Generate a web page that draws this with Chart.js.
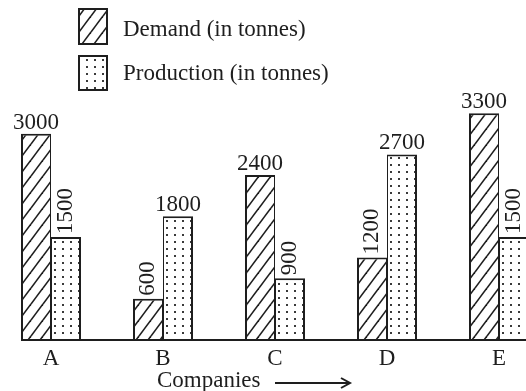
<!DOCTYPE html>
<html>
<head>
<meta charset="utf-8">
<script src="https://cdn.jsdelivr.net/npm/chart.js@4.4.1/dist/chart.umd.min.js"></script>
<style>
  html, body { margin: 0; padding: 0; background: #fff; overflow: hidden; width: 526px; height: 391px; }
  #wrap { position: absolute; left: -5px; top: 0; width: 560px; height: 391px; }
</style>
</head>
<body>
<div id="wrap"><canvas id="c" width="560" height="391"></canvas></div>
<script>
const companies = ['A', 'B', 'C', 'D', 'E'];
const demand = [3000, 600, 2400, 1200, 3300];
const production = [1500, 1800, 900, 2700, 1500];
const seriesNames = ['Demand (in tonnes)', 'Production (in tonnes)'];
const axisTitle = 'Companies';

const INK = '#1e1e1e';
const FONT = '"Liberation Serif", "Times New Roman", serif';
const SHIFT = 5; // the canvas starts 5px left of the page edge

// diagonal "/" hatching
function hatchPattern() {
  const w = 12, h = 16;
  const c = document.createElement('canvas');
  c.width = w; c.height = h;
  const g = c.getContext('2d');
  g.fillStyle = '#fff';
  g.fillRect(0, 0, w, h);
  g.strokeStyle = INK;
  g.lineWidth = 1.6;
  for (const dx of [-w, 0, w]) {
    for (const dy of [-h, 0, h]) {
      g.beginPath();
      g.moveTo(dx, dy + h);
      g.lineTo(dx + w, dy);
      g.stroke();
    }
  }
  return g.createPattern(c, 'repeat');
}

// fine dot grid
function dotPattern() {
  const w = 8, h = 7;
  const c = document.createElement('canvas');
  c.width = w; c.height = h;
  const g = c.getContext('2d');
  g.fillStyle = '#fff';
  g.fillRect(0, 0, w, h);
  g.fillStyle = '#3a3a3a';
  g.fillRect(3, 3, 2, 2);
  return g.createPattern(c, 'repeat');
}

const hatch = hatchPattern();
const dots = dotPattern();
const series = [demand, production];
const fills = [hatch, dots];

function drawSwatch(ctx, x, y, w, h, fill) {
  ctx.fillStyle = fill;
  ctx.fillRect(x, y, w, h);
  ctx.strokeStyle = INK;
  ctx.lineWidth = 2;
  ctx.strokeRect(x + 1, y + 1, w - 2, h - 2);
}

const decorations = {
  id: 'decorations',
  afterDatasetsDraw(chart) {
    const ctx = chart.ctx;
    const area = chart.chartArea;
    const base = chart.scales.y.getPixelForValue(0);
    const first = chart.getDatasetMeta(0).data[0];

    ctx.save();
    // base line
    ctx.strokeStyle = INK;
    ctx.lineWidth = 2;
    ctx.beginPath();
    ctx.moveTo(first.x - first.width / 2, base);
    ctx.lineTo(area.right, base);
    ctx.stroke();

    // value labels: the shorter bar of each pair gets an upright (rotated) label
    ctx.font = '23px ' + FONT;
    ctx.fillStyle = INK;
    series.forEach((vals, si) => {
      chart.getDatasetMeta(si).data.forEach((bar, i) => {
        const v = vals[i];
        const other = series[1 - si][i];
        const txt = String(v);
        if (v < other) {
          ctx.save();
          ctx.translate(bar.x, bar.y - 3);
          ctx.rotate(-Math.PI / 2);
          ctx.textAlign = 'left';
          ctx.textBaseline = 'middle';
          ctx.fillText(txt, 0, 0);
          ctx.restore();
        } else {
          ctx.textAlign = 'center';
          ctx.textBaseline = 'alphabetic';
          ctx.fillText(txt, bar.x, bar.y - 5);
        }
      });
    });
    ctx.restore();
  },
  afterDraw(chart) {
    const ctx = chart.ctx;
    ctx.save();
    // legend
    drawSwatch(ctx, 78 + SHIFT, 8, 30, 37, hatch);
    drawSwatch(ctx, 78 + SHIFT, 55, 30, 36, dots);
    ctx.font = '23px ' + FONT;
    ctx.fillStyle = INK;
    ctx.textAlign = 'left';
    ctx.textBaseline = 'alphabetic';
    ctx.fillText(seriesNames[0], 123 + SHIFT, 36);
    ctx.fillText(seriesNames[1], 123 + SHIFT, 80);

    // axis caption with arrow
    ctx.fillText(axisTitle, 157 + SHIFT, 387);
    ctx.strokeStyle = INK;
    ctx.lineWidth = 2;
    const ax0 = 275 + SHIFT, ax1 = 350 + SHIFT, ay = 383;
    ctx.beginPath();
    ctx.moveTo(ax0, ay);
    ctx.lineTo(ax1, ay);
    ctx.moveTo(ax1 - 9, ay - 5);
    ctx.lineTo(ax1, ay);
    ctx.lineTo(ax1 - 9, ay + 5);
    ctx.stroke();
    ctx.restore();
  }
};

new Chart(document.getElementById('c'), {
  type: 'bar',
  data: {
    labels: companies,
    datasets: [
      {
        label: seriesNames[0],
        data: demand,
        backgroundColor: fills[0],
        borderColor: INK,
        borderWidth: { top: 2, left: 2, right: 1, bottom: 0 }
      },
      {
        label: seriesNames[1],
        data: production,
        backgroundColor: fills[1],
        borderColor: INK,
        borderWidth: { top: 2, left: 1, right: 2, bottom: 0 }
      }
    ]
  },
  options: {
    responsive: false,
    animation: false,
    devicePixelRatio: 1,
    categoryPercentage: 60 / 112,
    barPercentage: 1,
    layout: { padding: { top: 65, bottom: 13.4, left: 0, right: 0 } },
    plugins: { legend: { display: false }, tooltip: { enabled: false } },
    scales: {
      x: {
        grid: { display: false, drawTicks: false },
        border: { display: false },
        ticks: { font: { family: FONT, size: 23 }, color: INK, padding: 5 }
      },
      y: { display: false, min: 0, max: 4000 }
    }
  },
  plugins: [decorations]
});
</script>
</body>
</html>
